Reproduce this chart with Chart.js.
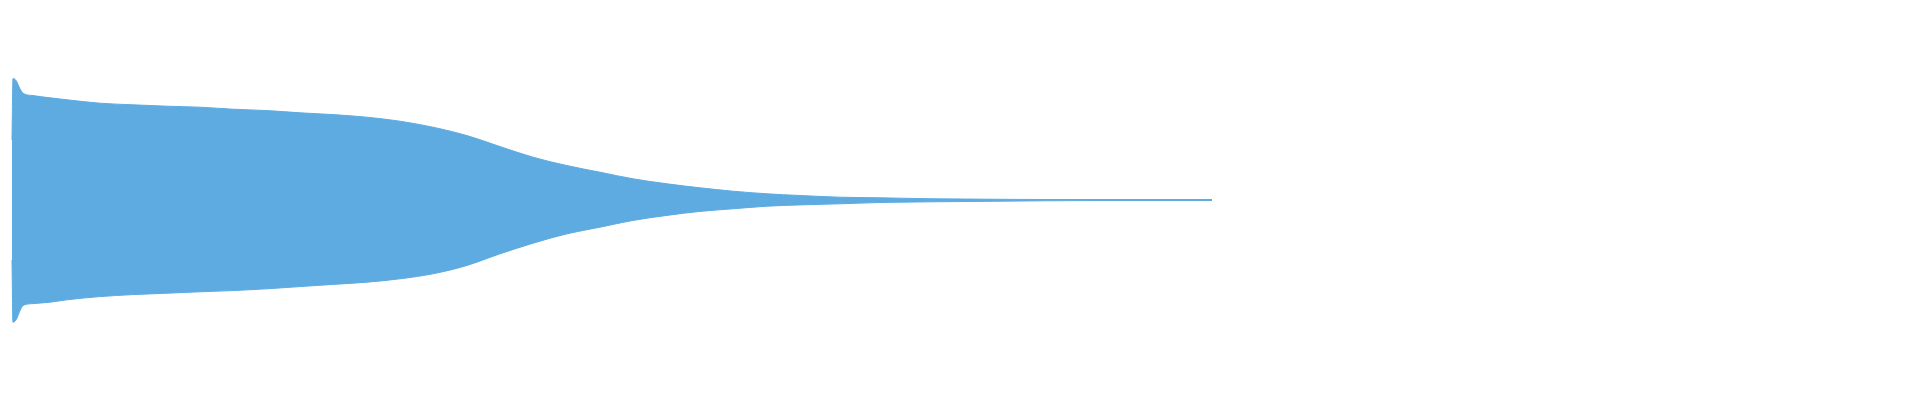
<!DOCTYPE html>
<html>
<head>
<meta charset="utf-8">
<script src="https://cdn.jsdelivr.net/npm/chart.js@4/dist/chart.umd.min.js"></script>
<style>
  html, body { margin: 0; padding: 0; background: #fff; }
  #wrap { width: 1920px; height: 400px; }
</style>
</head>
<body>
<div id="wrap"><canvas id="wave-chart"></canvas></div>
<script>
// waveform envelope (time in s, amplitude -1..1)
const times = [0, 0.008, 0.033, 0.067, 0.092, 0.175, 0.317, 0.458, 0.733, 1.008, 1.292, 1.567, 1.842,
  2.125, 2.4, 2.675, 2.958, 3.233, 3.508, 3.792, 4.067, 4.342, 4.625, 4.9, 5.175, 5.458, 5.733,
  6.008, 6.292, 6.567, 6.9, 7.233, 7.4, 7.675, 8.233, 8.608, 9.067, 10.0];
const upper = [0.30, 0.607, 0.598, 0.556, 0.534, 0.522, 0.511, 0.501, 0.484, 0.476, 0.469, 0.464, 0.454,
  0.447, 0.436, 0.427, 0.414, 0.394, 0.364, 0.322, 0.267, 0.214, 0.172, 0.139, 0.106, 0.081, 0.061,
  0.044, 0.031, 0.0225, 0.014, 0.011, 0.009, 0.006, 0.0035, 0.0025, 0.0025, 0.0025];
const lower = [-0.30, -0.611, -0.60, -0.553, -0.528, -0.518, -0.511, -0.499, -0.483, -0.473, -0.466, -0.459, -0.453,
  -0.444, -0.433, -0.422, -0.411, -0.394, -0.369, -0.327, -0.269, -0.216, -0.169, -0.136, -0.102, -0.077, -0.057,
  -0.044, -0.031, -0.0245, -0.019, -0.0125, -0.011, -0.009, -0.006, -0.004, -0.0025, -0.0025];

const waveColor = '#5dabe1';

const ctx = document.getElementById('wave-chart').getContext('2d');
const chartConfig = {
    type: 'line',
    data: {
        datasets: [{
            label: 'max',
            data: times.map((t, i) => ({ x: t, y: upper[i] })),
            borderColor: waveColor,
            backgroundColor: waveColor,
            borderWidth: 1,
            pointRadius: 0,
            cubicInterpolationMode: 'monotone',
            fill: '+1'
        }, {
            label: 'min',
            data: times.map((t, i) => ({ x: t, y: lower[i] })),
            borderColor: waveColor,
            backgroundColor: waveColor,
            borderWidth: 1,
            pointRadius: 0,
            cubicInterpolationMode: 'monotone',
            fill: false
        }]
    },
    options: {
        responsive: true,
        maintainAspectRatio: false,
        animation: false,
        layout: { padding: 0 },
        plugins: { legend: { display: false }, tooltip: { enabled: false } },
        scales: {
            x: { type: 'linear', min: -0.1, max: 15.9, display: false },
            y: { min: -1, max: 1, display: false }
        }
    }
};
const waveChart = new Chart(ctx, chartConfig);
</script>
</body>
</html>
